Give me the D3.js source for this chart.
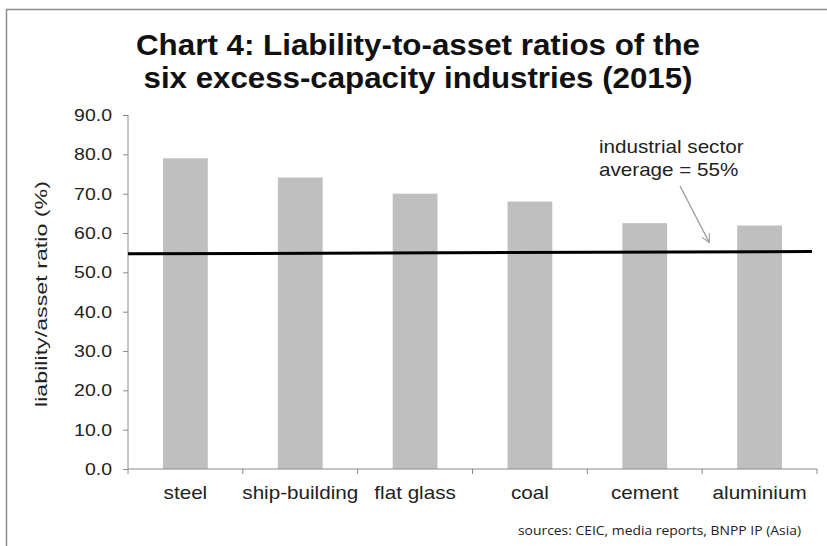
<!DOCTYPE html>
<html>
<head>
<meta charset="utf-8">
<script src="https://cdn.jsdelivr.net/npm/d3@7"></script>
<style>
  html, body { margin: 0; padding: 0; background: #fff; }
  svg { display: block; }
</style>
</head>
<body>
<svg id="chart" width="827" height="546"></svg>
<script>
// Liability-to-asset ratios, 2015 (%)
const industries = ["steel", "ship-building", "flat glass", "coal", "cement", "aluminium"];
const ratios = [79.0, 74.1, 70.0, 68.0, 62.5, 61.9];
const yTicks = [0, 10, 20, 30, 40, 50, 60, 70, 80, 90];
const sectorAverage = 55;
// the reference line is drawn with a slight tilt around the average
const averageLineEnds = [54.7, 55.3];
const titleLines = ["Chart 4: Liability-to-asset ratios of the", "six excess-capacity industries (2015)"];
const annotationLines = ["industrial sector", "average = " + sectorAverage + "%"];
const yAxisTitle = "liability/asset ratio (%)";
const sourceNote = "sources: CEIC, media reports, BNPP IP (Asia)";

const svg = d3.select("#chart");
const FONT = "'Liberation Sans', Arial, sans-serif";
const SX = 1.18; // horizontal widening of body text

const plot = { left: 128, right: 817, top: 115, bottom: 469 };

// outer frame
svg.append("rect")
  .attr("x", 6.5).attr("y", 9.5)
  .attr("width", 900).attr("height", 600)
  .attr("fill", "none").attr("stroke", "#8c8c8c").attr("stroke-width", 1.5);

// title
titleLines.forEach((line, i) => {
  svg.append("text")
    .attr("x", 418).attr("y", 55 + i * 33)
    .attr("text-anchor", "middle")
    .attr("font-family", FONT).attr("font-weight", "bold")
    .attr("font-size", 29.5).attr("fill", "#111")
    .attr("textLength", i === 0 ? 564 : 549)
    .attr("lengthAdjust", "spacingAndGlyphs")
    .text(line);
});

const x = d3.scaleBand()
  .domain(industries)
  .range([plot.left, plot.right])
  .paddingInner(0.61)
  .paddingOuter(0.305);

const y = d3.scaleLinear()
  .domain([0, 90])
  .range([plot.bottom, plot.top]);

function wideText(g, tx, ty, anchor) {
  return g.append("text")
    .attr("transform", `translate(${tx},${ty}) scale(${SX},1)`)
    .attr("text-anchor", anchor)
    .attr("font-family", FONT)
    .attr("fill", "#222");
}

// bars
svg.append("g").selectAll("rect")
  .data(industries)
  .join("rect")
  .attr("x", d => x(d))
  .attr("width", x.bandwidth())
  .attr("y", (d, i) => y(ratios[i]))
  .attr("height", (d, i) => y(0) - y(ratios[i]))
  .attr("fill", "#bfbfbf");

// y axis
const yAxis = svg.append("g")
  .attr("transform", `translate(${plot.left},0)`)
  .call(d3.axisLeft(y).tickValues(yTicks).tickSize(5).tickFormat(() => ""));
yAxis.select(".domain").attr("stroke", "#8a8a8a").attr("d", `M0,${plot.top}V${plot.bottom}`);
yAxis.selectAll(".tick line").attr("stroke", "#8a8a8a");
yTicks.forEach(v => {
  wideText(svg, 112, y(v) + 6, "end")
    .attr("font-size", 16.5)
    .text(d3.format(".1f")(v));
});

// x axis with ticks at category boundaries
const xAxisG = svg.append("g").attr("transform", `translate(0,${plot.bottom})`);
xAxisG.append("line")
  .attr("x1", plot.left).attr("x2", plot.right)
  .attr("stroke", "#8a8a8a");
const boundaries = industries.map((d, i) => plot.left + i * x.step()).concat([plot.right]);
boundaries.forEach(b => {
  xAxisG.append("line")
    .attr("x1", b).attr("x2", b).attr("y1", 0).attr("y2", 5)
    .attr("stroke", "#8a8a8a");
});
industries.forEach(d => {
  wideText(svg, x(d) + x.bandwidth() / 2, 499, "middle")
    .attr("font-size", 17.5)
    .text(d);
});

// y axis title
svg.append("text")
  .attr("transform", `translate(47,${(plot.top + plot.bottom) / 2 + 2}) rotate(-90)`)
  .attr("text-anchor", "middle")
  .attr("font-family", FONT).attr("font-size", 17).attr("fill", "#222")
  .attr("textLength", 226).attr("lengthAdjust", "spacingAndGlyphs")
  .text(yAxisTitle);

// sector average line
svg.append("line")
  .attr("x1", plot.left).attr("y1", y(averageLineEnds[0]))
  .attr("x2", 812).attr("y2", y(averageLineEnds[1]))
  .attr("stroke", "#000").attr("stroke-width", 3);

// annotation with arrow
svg.append("defs").append("marker")
  .attr("id", "arrowhead")
  .attr("viewBox", "0 0 10 10")
  .attr("refX", 9).attr("refY", 5)
  .attr("markerWidth", 9).attr("markerHeight", 9)
  .attr("markerUnits", "userSpaceOnUse")
  .attr("orient", "auto")
  .append("path")
  .attr("d", "M0,0 L10,5 L0,10")
  .attr("fill", "none").attr("stroke", "#9a9a9a").attr("stroke-width", 1.2);

svg.append("line")
  .attr("x1", 680).attr("y1", 186)
  .attr("x2", 709).attr("y2", 242)
  .attr("stroke", "#9a9a9a").attr("stroke-width", 1.3)
  .attr("marker-end", "url(#arrowhead)");

annotationLines.forEach((line, i) => {
  wideText(svg, 599, 153 + i * 23, "start")
    .attr("font-size", 17.5)
    .text(line);
});

// source note
svg.append("text")
  .attr("x", 518).attr("y", 535)
  .attr("font-family", "'Open Sans', 'Noto Sans', sans-serif")
  .attr("font-size", 12).attr("fill", "#222")
  .attr("textLength", 283).attr("lengthAdjust", "spacingAndGlyphs")
  .text(sourceNote);
</script>
</body>
</html>
